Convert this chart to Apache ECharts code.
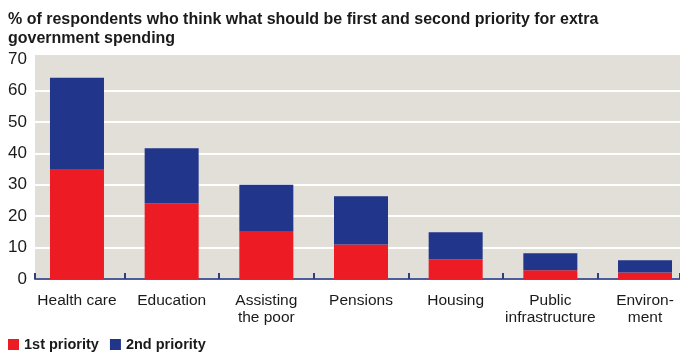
<!DOCTYPE html>
<html>
<head>
<meta charset="utf-8">
<script src="https://cdn.jsdelivr.net/npm/echarts@6/dist/echarts.min.js"></script>
<style>
  html, body { margin: 0; padding: 0; background: #ffffff; }
  #chart { width: 680px; height: 352px; }
</style>
</head>
<body>
<div id="chart"></div>
<script>
// Survey: first and second priority for extra government spending (% of respondents)
const categories = ['Health care', 'Education', 'Assisting\nthe poor', 'Pensions', 'Housing', 'Public\ninfrastructure', 'Environ-\nment'];
const firstPriority = [35, 24, 15, 11, 6.3, 2.8, 2.1];
const secondPriority = [29, 17.6, 15, 15.3, 8.6, 5.4, 3.9];
const yTicks = { min: 0, max: 70, step: 10 };

const RED = '#ed1c24';
const BLUE = '#21368a';
const PANEL = '#e2ded8';
const AXIS_BLUE = '#4d5d9c';
const FONT = '"Liberation Sans", Arial, sans-serif';

const chart = echarts.init(document.getElementById('chart'), null, { renderer: 'canvas' });

chart.setOption({
  animation: false,
  backgroundColor: '#ffffff',
  title: {
    text: '% of respondents who think what should be first and second priority for extra\ngovernment spending',
    left: 8,
    top: 10,
    padding: 0,
    textStyle: {
      fontFamily: FONT,
      fontSize: 16,
      fontWeight: 'bold',
      lineHeight: 19,
      color: '#1a1a1a'
    }
  },
  legend: {
    left: 8,
    top: 337,
    padding: 0,
    itemWidth: 11,
    itemHeight: 11,
    itemGap: 11,
    icon: 'rect',
    data: ['1st priority', '2nd priority'],
    textStyle: {
      fontFamily: FONT,
      fontSize: 14.5,
      fontWeight: 'bold',
      color: '#1a1a1a'
    }
  },
  graphic: [{
    type: 'rect',
    z: -100,
    silent: true,
    shape: { x: 35, y: 55, width: 645, height: 224 },
    style: { fill: PANEL }
  }],
  grid: [
    // frame: value scale, gridlines, axis line
    { left: 35, right: 0, top: 59, height: 220, containLabel: false, outerBoundsMode: 'none' },
    // bars: category bands
    { left: 29.65, width: 662.7, top: 59, height: 220, containLabel: false, outerBoundsMode: 'none' }
  ],
  xAxis: [
    {
      gridIndex: 0,
      type: 'value',
      min: 0,
      max: 1,
      interval: 1,
      axisLine: { show: true, lineStyle: { color: AXIS_BLUE, width: 2 } },
      axisTick: { show: true, inside: true, length: 6, lineStyle: { color: '#2e3d84', width: 2 } },
      axisLabel: { show: false },
      splitLine: { show: false }
    },
    {
      gridIndex: 1,
      type: 'category',
      data: categories,
      axisLine: { show: false },
      axisTick: {
        show: true,
        inside: true,
        length: 6,
        interval: function (index) { return index > 0; },
        lineStyle: { color: '#2e3d84', width: 2 }
      },
      axisLabel: {
        interval: 0,
        margin: 13,
        fontFamily: FONT,
        fontSize: 15.5,
        lineHeight: 17,
        color: '#1a1a1a',
        align: 'center',
        verticalAlign: 'top'
      },
      splitLine: { show: false }
    }
  ],
  yAxis: [
    {
      gridIndex: 0,
      type: 'value',
      min: yTicks.min,
      max: yTicks.max,
      interval: yTicks.step,
      axisLine: { show: false },
      axisTick: { show: false },
      axisLabel: {
        margin: 8,
        fontFamily: FONT,
        fontSize: 17,
        color: '#1a1a1a',
        verticalAlign: 'middle',
        padding: [4, 0, 0, 0]
      },
      splitLine: {
        show: true,
        showMinLine: false,
        showMaxLine: false,
        lineStyle: { color: '#ffffff', width: 2 }
      }
    },
    {
      gridIndex: 1,
      type: 'value',
      min: yTicks.min,
      max: yTicks.max,
      interval: yTicks.step,
      show: false,
      splitLine: { show: false }
    }
  ],
  series: [
    {
      name: '1st priority',
      type: 'bar',
      stack: 'priority',
      xAxisIndex: 1,
      yAxisIndex: 1,
      barWidth: 54,
      itemStyle: { color: RED },
      data: firstPriority,
      z: 5
    },
    {
      name: '2nd priority',
      type: 'bar',
      stack: 'priority',
      xAxisIndex: 1,
      yAxisIndex: 1,
      barWidth: 54,
      itemStyle: { color: BLUE },
      data: secondPriority,
      z: 5
    }
  ]
});
</script>
</body>
</html>
